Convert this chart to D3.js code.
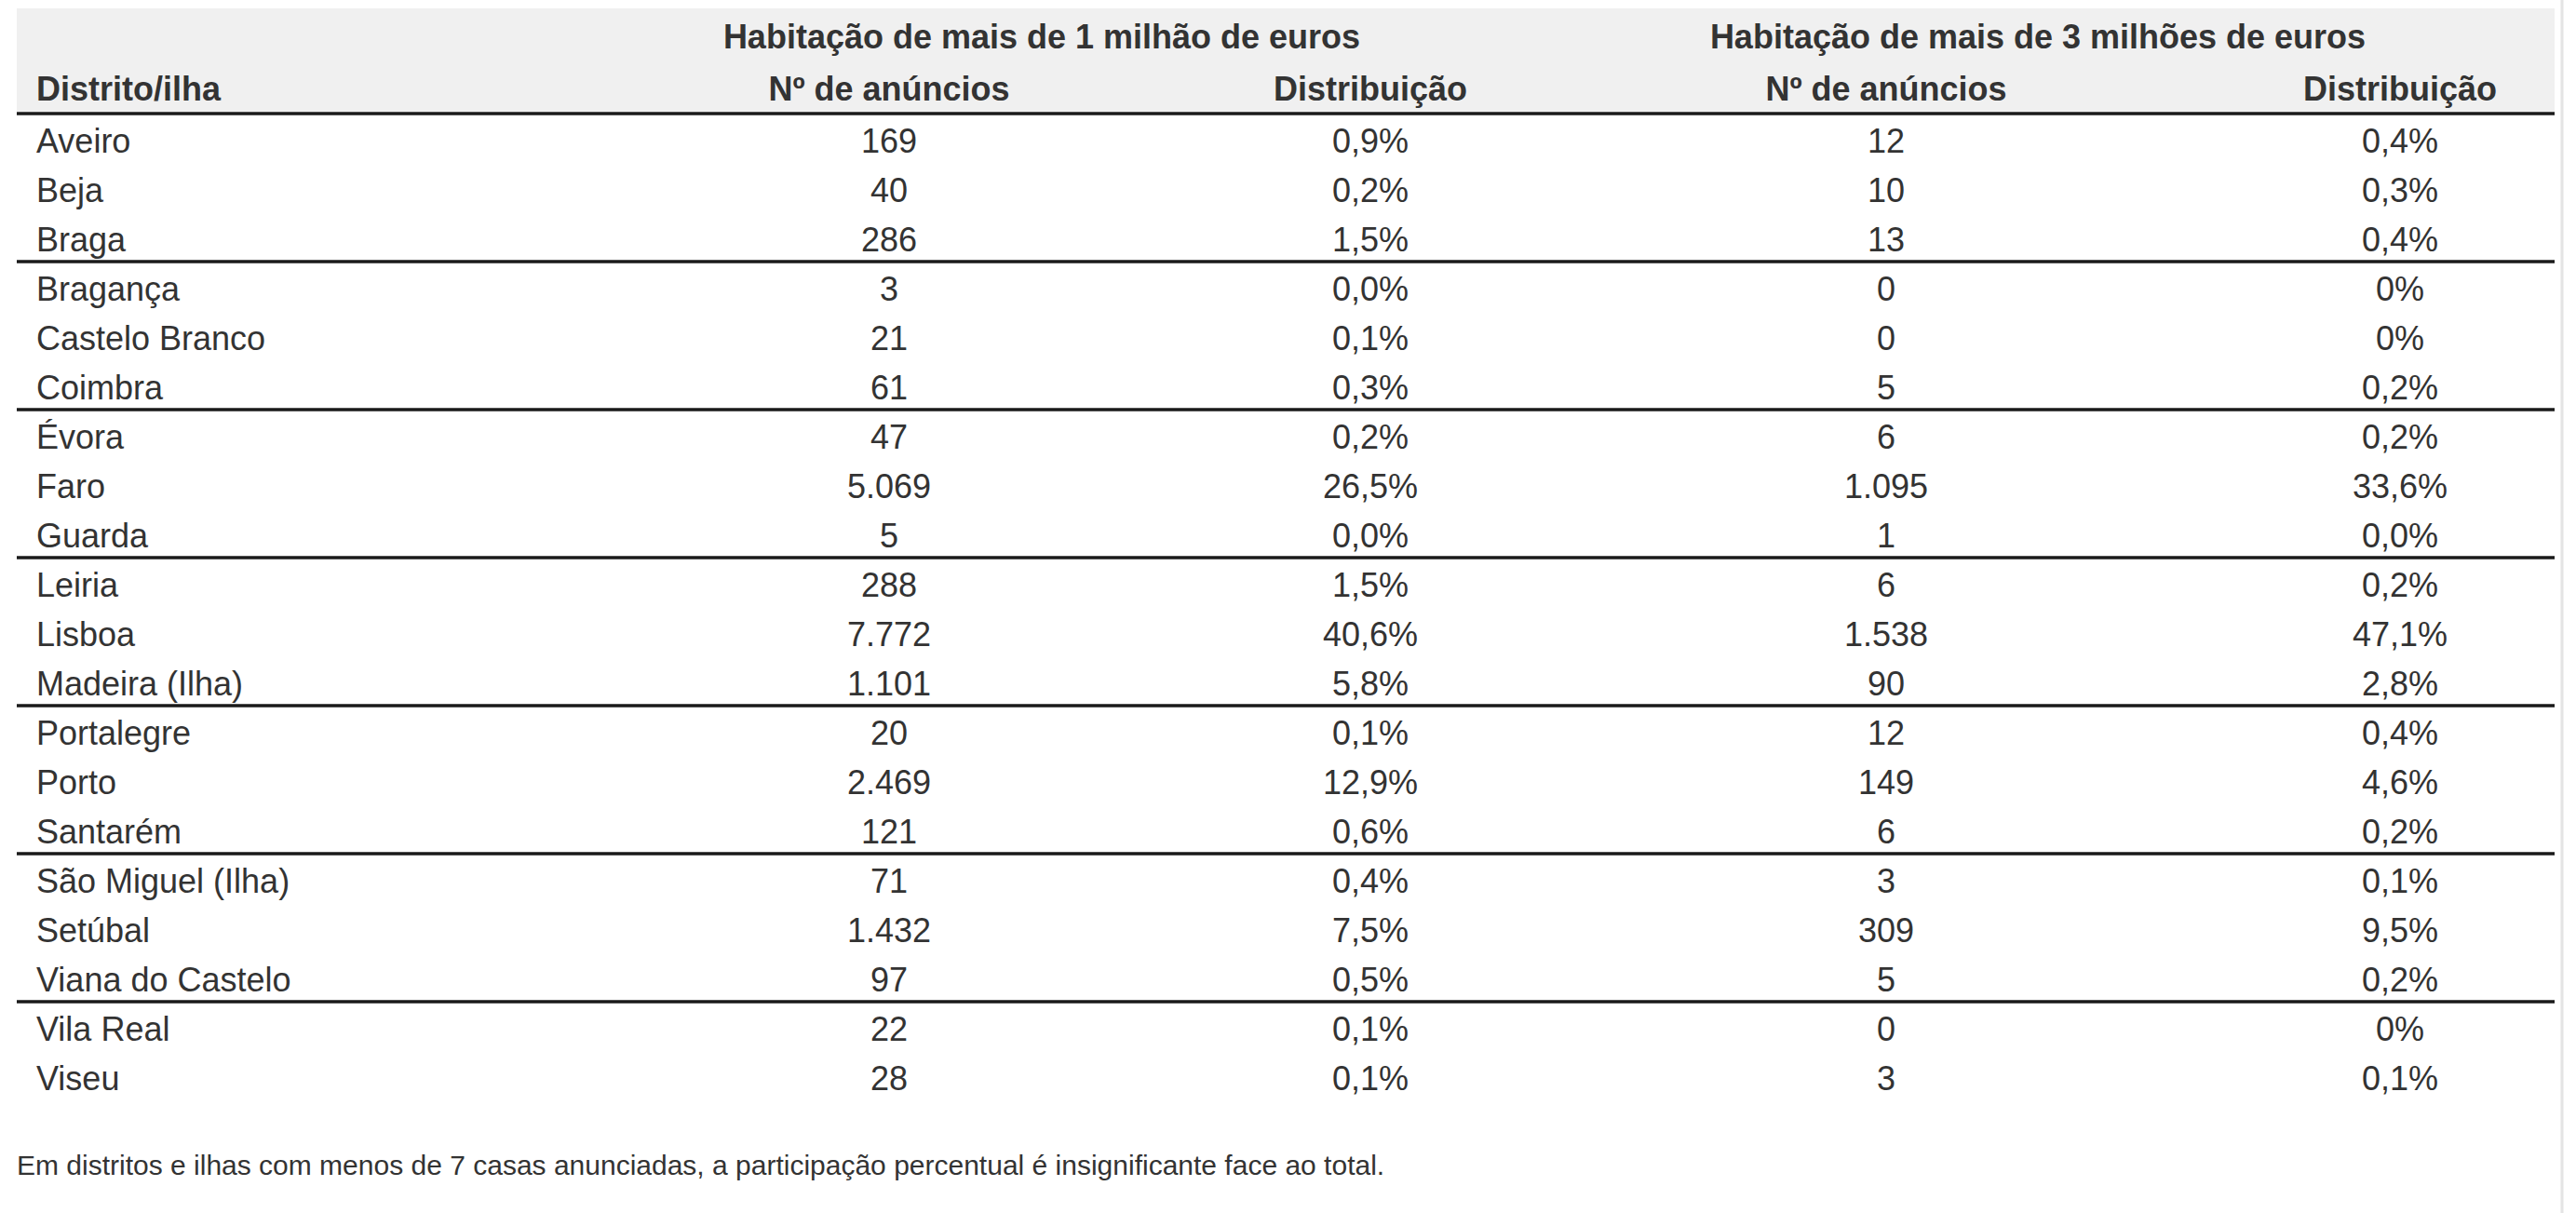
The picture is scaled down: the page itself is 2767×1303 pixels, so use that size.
<!DOCTYPE html>
<html><head><meta charset="utf-8">
<script src="https://cdn.jsdelivr.net/npm/d3@7"></script>
<style>
body{margin:0;background:#fff}
text{font-family:"Liberation Sans Narrow","Liberation Sans",Arial,sans-serif;fill:#333}
</style></head><body>
<script>
// rows of the table
const districts = ["Aveiro","Beja","Braga","Bragança","Castelo Branco","Coimbra","Évora","Faro","Guarda","Leiria","Lisboa","Madeira (Ilha)","Portalegre","Porto","Santarém","São Miguel (Ilha)","Setúbal","Viana do Castelo","Vila Real","Viseu"];
const count1M = ["169","40","286","3","21","61","47","5.069","5","288","7.772","1.101","20","2.469","121","71","1.432","97","22","28"];
const dist1M = ["0,9%","0,2%","1,5%","0,0%","0,1%","0,3%","0,2%","26,5%","0,0%","1,5%","40,6%","5,8%","0,1%","12,9%","0,6%","0,4%","7,5%","0,5%","0,1%","0,1%"];
const count3M = ["12","10","13","0","0","5","6","1.095","1","6","1.538","90","12","149","6","3","309","5","0","3"];
const dist3M = ["0,4%","0,3%","0,4%","0%","0%","0,2%","0,2%","33,6%","0,0%","0,2%","47,1%","2,8%","0,4%","4,6%","0,2%","0,1%","9,5%","0,2%","0%","0,1%"];
const groupHeads = ["Habitação de mais de 1 milhão de euros","Habitação de mais de 3 milhões de euros"];
const colHeads = ["Distrito/ilha","Nº de anúncios","Distribuição","Nº de anúncios","Distribuição"];
const note = "Em distritos e ilhas com menos de 7 casas anunciadas, a participação percentual é insignificante face ao total.";

const W = 2767, H = 1303;
const svg = d3.select("body").append("svg").attr("width", W).attr("height", H);

const left = 18, right = 2744;
const y = d3.scaleLinear().domain([0, districts.length]).range([124, 124 + 53 * districts.length]);
const colX = [39, 955, 1472, 2026, 2578];

// header background
svg.append("rect").attr("x", left).attr("y", 9).attr("width", right - left).attr("height", 111).attr("fill", "#f0f0f0");
svg.append("line").attr("x1", 2752).attr("x2", 2752).attr("y1", 0).attr("y2", H).attr("stroke", "#e4e4e4").attr("stroke-width", 3);

svg.selectAll("text.g").data(groupHeads).join("text")
  .attr("x", (d, i) => [1119, 2189][i]).attr("y", 52)
  .attr("text-anchor", "middle").attr("font-size", 36).attr("font-weight", "bold").text(d => d);
svg.selectAll("text.c").data(colHeads).join("text")
  .attr("x", (d, i) => colX[i]).attr("y", 108)
  .attr("text-anchor", (d, i) => i == 0 ? "start" : "middle")
  .attr("font-size", 36).attr("font-weight", "bold").text(d => d);

// body rows
const cols = [districts, count1M, dist1M, count3M, dist3M];
cols.forEach((arr, ci) => {
  svg.append("g").selectAll("text").data(arr).join("text")
    .attr("x", colX[ci]).attr("y", (d, i) => y(i + 0.5) + 13)
    .attr("text-anchor", ci == 0 ? "start" : "middle")
    .attr("font-size", 36).text(d => d);
});

// separators: under header and every 3 rows
const seps = [0, 3, 6, 9, 12, 15, 18];
svg.selectAll("line.s").data(seps).join("line")
  .attr("x1", left).attr("x2", right)
  .attr("y1", d => y(d) - 2).attr("y2", d => y(d) - 2)
  .attr("stroke", "#1a1a1a").attr("stroke-width", 3.5);

svg.append("text").attr("x", 18).attr("y", 1262).attr("font-size", 30).attr("font-family", "Liberation Sans, Arial, sans-serif").text(note);
</script>
</body></html>
